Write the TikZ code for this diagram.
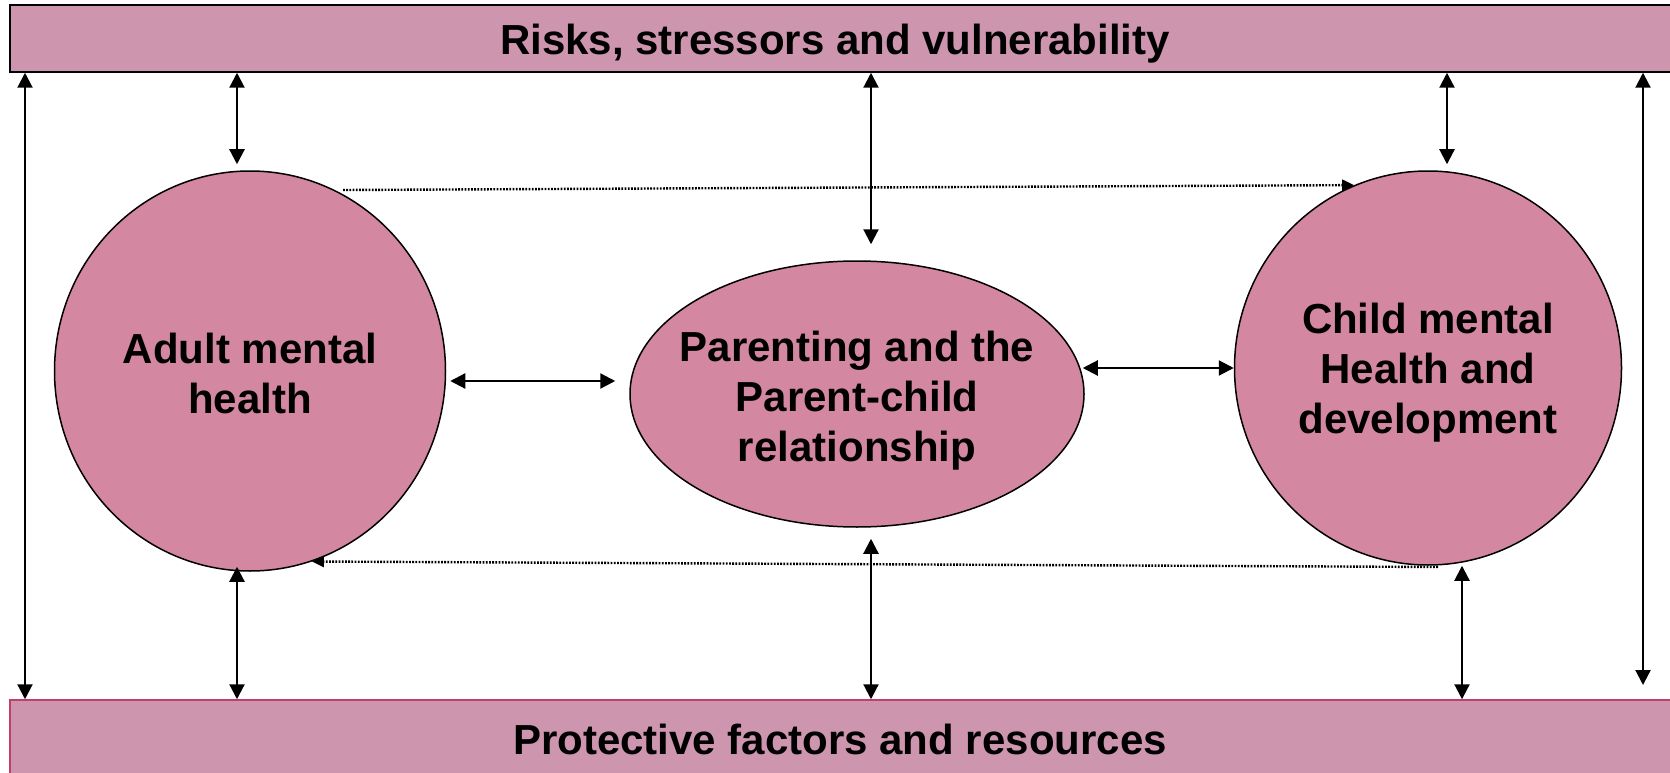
\documentclass[tikz,border=0pt]{standalone}
\usepackage{fontspec}
\setmainfont{Liberation Sans}
\usetikzlibrary{arrows.meta,shapes.geometric}

\definecolor{barpink}{RGB}{206,149,174}
\definecolor{ballpink}{RGB}{212,135,160}
\definecolor{barline}{RGB}{192,64,106}

\begin{document}
\begin{tikzpicture}[x=1pt,y=-1pt,
    bar/.style={rectangle,draw,fill=barpink,line width=1.5pt,inner sep=0pt},
    ball/.style={ellipse,draw,fill=ballpink,line width=1.5pt,inner sep=0pt},
    txt/.style={align=center,font=\bfseries\fontsize{42}{50}\selectfont},
    dbl/.style={{Triangle[length=15pt,width=15pt]}-{Triangle[length=15pt,width=15pt]},line width=2.2pt},
    dots/.style={-{Triangle[length=12pt,width=11pt]},line width=2.4pt,dash pattern=on 1.8pt off 1.4pt}]
    \useasboundingbox (0,0) rectangle (1670,773);
    \fill[white] (0,0) rectangle (1670,773);
    % bars
    \node[bar,minimum width=1700,minimum height=67] (risk) at (860,38.5) {};
    \node[txt] (risktxt) at (835,44) {Risks, stressors and vulnerability};
    \node[bar,draw=barline,minimum width=1700,minimum height=120] (prot) at (860,760) {};
    \node[txt] (prottxt) at (840,739) {Protective factors and resources};
    % the three balls
    \node[ball,minimum width=391,minimum height=400] (adult) at (250,371) {};
    \node[txt] at (250,373) {Adult mental\\health};
    \node[ball,minimum width=454,minimum height=266] (parent) at (857,394) {};
    \node[txt] at (857,401) {Parenting and the\\Parent-child\\relationship};
    \node[ball,minimum width=387,minimum height=394] (child) at (1428,368) {};
    \node[txt] at (1428,373) {Child mental\\Health and\\development};
    % x positions of the vertical arrows
    \coordinate (lx) at (25,0);
    \coordinate (ax) at (237,0);
    \coordinate (px) at (871,0);
    \coordinate (ctx) at (1447,0);
    \coordinate (cbx) at (1462,0);
    \coordinate (rend) at (1643,685);
    \coordinate (dstart) at (343,190);
    \coordinate (dback) at (1438,567);
    \draw[dbl] (risk.south -| lx) -- (prot.north -| lx);
    \draw[dbl] (risk.south -| rend) -- (rend);
    \draw[dbl,shorten >=6pt] (risk.south -| ax) -- (adult.north -| ax);
    \draw[dbl,shorten <=-5pt] (adult.south -| ax) -- (prot.north -| ax);
    \draw[dbl,shorten >=16pt] (risk.south -| px) -- (parent.north -| px);
    \draw[dbl,shorten <=11pt] (parent.south -| px) -- (prot.north -| px);
    \draw[dbl,shorten >=6pt] (risk.south -| ctx) -- (child.north -| ctx);
    \draw[dbl] (child.south -| cbx) -- (prot.north -| cbx);
    % across
    \draw[dbl] ([shift={(4,10)}]adult.east) -- ([shift={(-14,-13)}]parent.west);
    \draw[dbl] ([shift={(-2,-26)}]parent.east) -- (child.west);
    \draw[dots] (dstart) -- (child.112);
    \draw[dots] (dback) -- (adult.-72);
\end{tikzpicture}
\end{document}
